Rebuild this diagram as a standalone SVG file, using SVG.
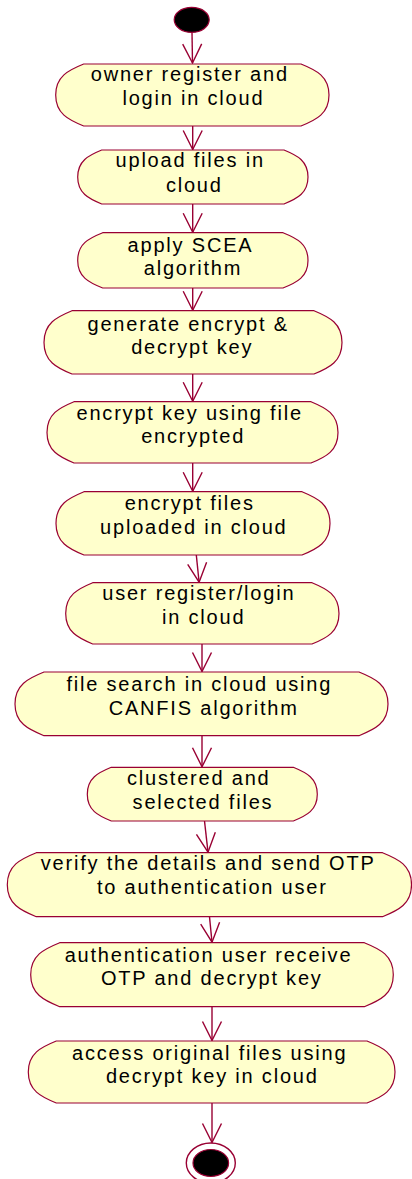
<svg xmlns="http://www.w3.org/2000/svg" width="412" height="1179" viewBox="0 0 412 1179">
  <style>
    .act { fill: #FFFFCC; stroke: #990033; stroke-width: 1.2; }
    .lbl { font-family: "Liberation Sans", Arial, sans-serif; font-size: 20px; letter-spacing: 1.8px; fill: #000; text-anchor: middle; }
    .flow { fill: none; stroke: #990033; stroke-width: 1.4; marker-end: url(#open); }
    .dot { fill: #000; stroke: #990033; stroke-width: 1.2; }
  </style>
  <defs>
    <marker id="open" markerUnits="userSpaceOnUse" viewBox="-21 -11 23 22" markerWidth="23" markerHeight="22" refX="0" refY="0" orient="auto">
      <path d="M-19,-9.5 L0,0 L-19,9.5" fill="none" stroke="#990033" stroke-width="1.4"/>
    </marker>
  </defs>
  <rect width="412" height="1179" fill="#fff"/>

  <g id="connectors">
    <line class="flow" x1="192" y1="32.5" x2="192.5" y2="63"/>
    <line class="flow" x1="192.7" y1="126" x2="192.7" y2="149.5"/>
    <line class="flow" x1="192.7" y1="204" x2="192.7" y2="232.2"/>
    <line class="flow" x1="192.7" y1="288" x2="192.7" y2="310.2"/>
    <line class="flow" x1="192.7" y1="374" x2="192.7" y2="401.2"/>
    <line class="flow" x1="192.7" y1="463" x2="192.7" y2="491.2"/>
    <line class="flow" x1="196.3" y1="555" x2="199.1" y2="582.2"/>
    <line class="flow" x1="202" y1="644" x2="202" y2="671.5"/>
    <line class="flow" x1="202" y1="735.7" x2="202" y2="766.8"/>
    <line class="flow" x1="204.5" y1="821" x2="208" y2="852.2"/>
    <line class="flow" x1="209.5" y1="916.7" x2="212" y2="942.2"/>
    <line class="flow" x1="212" y1="1006.7" x2="212" y2="1040.5"/>
    <line class="flow" x1="212" y1="1103" x2="212" y2="1142.5"/>
  </g>

  <g id="start">
    <ellipse class="dot" cx="191.7" cy="19.8" rx="17.5" ry="12.5"/>
  </g>

  <g id="n1">
    <path class="act" d="M83.7,64 H301 C316.4,70.2 329,76.4 329,95 C329,113.6 316.4,119.8 301,126 H83.7 C68.3,119.8 55.7,113.6 55.7,95 C55.7,76.4 68.3,70.2 83.7,64 Z"/>
    <text class="lbl" x="189.8" y="81">owner register and</text>
    <text class="lbl" x="193.4" y="105">login in cloud</text>
  </g>

  <g id="n2">
    <path class="act" d="M101.7,150 H284 C297.2,155.4 308,160.8 308,177 C308,193.2 297.2,198.6 284,204 H101.7 C88.5,198.6 77.7,193.2 77.7,177 C77.7,160.8 88.5,155.4 101.7,150 Z"/>
    <text class="lbl" x="190.2" y="167">upload files in</text>
    <text class="lbl" x="194.3" y="191.5">cloud</text>
  </g>

  <g id="n3">
    <path class="act" d="M102.7,232.7 H283 C296.8,238.2 308,243.8 308,260.4 C308,277 296.8,282.5 283,288 H102.7 C88.9,282.5 77.7,277 77.7,260.4 C77.7,243.8 88.9,238.2 102.7,232.7 Z"/>
    <text class="lbl" x="190.5" y="251.5">apply SCEA</text>
    <text class="lbl" x="193" y="275">algorithm</text>
  </g>

  <g id="n4">
    <path class="act" d="M72,310.7 H314 C329.4,317 342,323.4 342,342.4 C342,361.4 329.4,367.7 314,374 H72 C56.6,367.7 44,361.4 44,342.4 C44,323.4 56.6,317 72,310.7 Z"/>
    <text class="lbl" x="188.2" y="330.5">generate encrypt &amp;</text>
    <text class="lbl" x="192.2" y="353.5">decrypt key</text>
  </g>

  <g id="n5">
    <path class="act" d="M74,401.7 H311 C325.9,407.8 338,414 338,432.4 C338,450.8 325.9,456.9 311,463 H74 C59.2,456.9 47,450.8 47,432.4 C47,414 59.2,407.8 74,401.7 Z"/>
    <text class="lbl" x="189.7" y="420">encrypt key using file</text>
    <text class="lbl" x="193.2" y="443">encrypted</text>
  </g>

  <g id="n6">
    <path class="act" d="M84,491.7 H302 C317.4,498 330,504.4 330,523.4 C330,542.4 317.4,548.7 302,555 H84 C68.6,548.7 56,542.4 56,523.4 C56,504.4 68.6,498 84,491.7 Z"/>
    <text class="lbl" x="189.7" y="510">encrypt files</text>
    <text class="lbl" x="193.8" y="533.5">uploaded in cloud</text>
  </g>

  <g id="n7">
    <path class="act" d="M92.7,582.7 H312 C326.9,588.8 339,595 339,613.4 C339,631.8 326.9,637.9 312,644 H92.7 C77.9,637.9 65.7,631.8 65.7,613.4 C65.7,595 77.9,588.8 92.7,582.7 Z"/>
    <text class="lbl" x="198.8" y="599.5">user register/login</text>
    <text class="lbl" x="203.7" y="623.5">in cloud</text>
  </g>

  <g id="n8">
    <path class="act" d="M44,672 H359 C375,678.4 388,684.8 388,703.9 C388,723 375,729.3 359,735.7 H44 C28.1,729.3 15,723 15,703.9 C15,684.8 28.1,678.4 44,672 Z"/>
    <text class="lbl" x="199.3" y="691">file search in cloud using</text>
    <text class="lbl" x="203.7" y="714.5">CANFIS algorithm</text>
  </g>

  <g id="n9">
    <path class="act" d="M111.3,767.3 H293.3 C306.5,772.7 317.3,778.1 317.3,794.2 C317.3,810.3 306.5,815.6 293.3,821 H111.3 C98.1,815.6 87.3,810.3 87.3,794.2 C87.3,778.1 98.1,772.7 111.3,767.3 Z"/>
    <text class="lbl" x="198.8" y="785">clustered and</text>
    <text class="lbl" x="203" y="809">selected files</text>
  </g>

  <g id="n10">
    <path class="act" d="M36.3,852.7 H382.5 C398.5,859.1 411.5,865.5 411.5,884.7 C411.5,903.9 398.5,910.3 382.5,916.7 H36.3 C20.4,910.3 7.3,903.9 7.3,884.7 C7.3,865.5 20.4,859.1 36.3,852.7 Z"/>
    <text class="lbl" x="208.2" y="870">verify the details and send OTP</text>
    <text class="lbl" x="212.3" y="894">to authentication user</text>
  </g>

  <g id="n11">
    <path class="act" d="M59.7,942.7 H364.3 C380.3,949.1 393.3,955.5 393.3,974.7 C393.3,993.9 380.3,1000.3 364.3,1006.7 H59.7 C43.8,1000.3 30.7,993.9 30.7,974.7 C30.7,955.5 43.8,949.1 59.7,942.7 Z"/>
    <text class="lbl" x="208.5" y="961.5">authentication user receive</text>
    <text class="lbl" x="211.8" y="985">OTP and decrypt key</text>
  </g>

  <g id="n12">
    <path class="act" d="M56.3,1041 H367 C382.4,1047.2 395,1053.4 395,1072 C395,1090.6 382.4,1096.8 367,1103 H56.3 C40.9,1096.8 28.3,1090.6 28.3,1072 C28.3,1053.4 40.9,1047.2 56.3,1041 Z"/>
    <text class="lbl" x="209.7" y="1059.5">access original files using</text>
    <text class="lbl" x="212.3" y="1083">decrypt key in cloud</text>
  </g>

  <g id="end">
    <ellipse cx="210.8" cy="1163" rx="24.5" ry="20" fill="#fff" stroke="#990033" stroke-width="1.4"/>
    <ellipse class="dot" cx="210.8" cy="1163" rx="17.8" ry="13.5"/>
  </g>
</svg>
